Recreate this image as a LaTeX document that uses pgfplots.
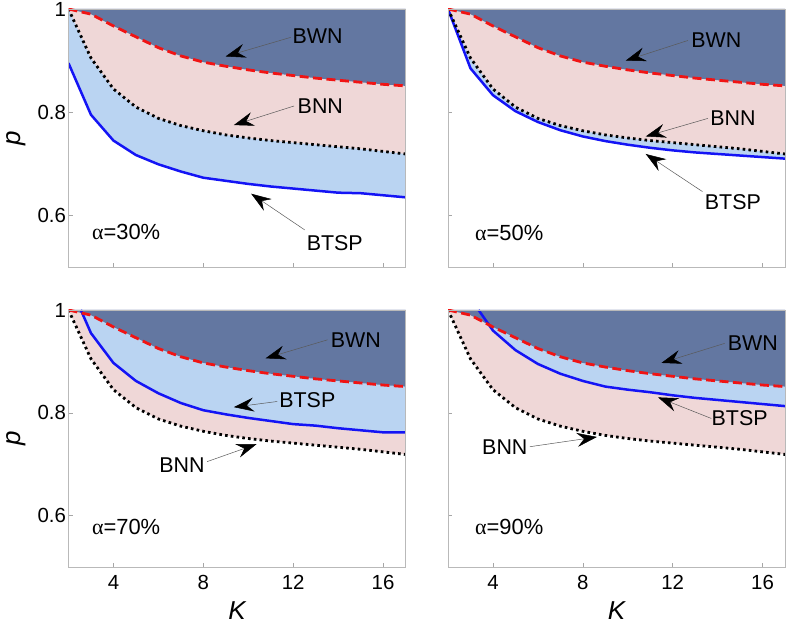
\documentclass[border=0pt]{standalone}
\usepackage{fontspec}
\setmainfont{Liberation Sans}
\newfontfamily\serifgr{Liberation Serif}
\usepackage{pgfplots}
\usepackage{pgfplotstable}
\pgfplotsset{compat=1.18}
\usetikzlibrary{arrows.meta}

\definecolor{darkreg}{RGB}{99,119,161}
\definecolor{pinkreg}{RGB}{239,215,215}
\definecolor{lbreg}{RGB}{186,212,242}
\definecolor{bluel}{RGB}{20,20,245}
\definecolor{redl}{RGB}{240,20,20}

\pgfplotstableread{
K p
2 1
3 0.990
4 0.967
5 0.946
6 0.925
7 0.909
8 0.897
9 0.889
10 0.882
11 0.876
12 0.871
13 0.866
14 0.862
15 0.858
16 0.854
17 0.851
}\bwn

\pgfplotstableread{
K p
2 1
3 0.905
4 0.845
5 0.810
6 0.788
7 0.774
8 0.764
9 0.756
10 0.750
11 0.745
12 0.741
13 0.737
14 0.733
15 0.729
16 0.724
17 0.719
}\bnn

\pgfplotstableread{
K p
2 0.895
3 0.795
4 0.745
5 0.717
6 0.699
7 0.685
8 0.673
9 0.667
10 0.661
11 0.656
12 0.652
13 0.648
14 0.644
15 0.643
16 0.639
17 0.635
}\btspA

\pgfplotstableread{
K p
2 1
3 0.885
4 0.833
5 0.802
6 0.781
7 0.765
8 0.753
9 0.744
10 0.737
11 0.731
12 0.726
13 0.722
14 0.719
15 0.716
16 0.713
17 0.710
}\btspB

\pgfplotstableread{
K p
2.55 1
3 0.955
4 0.897
5 0.862
6 0.838
7 0.819
8 0.805
9 0.797
10 0.790
11 0.784
12 0.778
13 0.775
14 0.770
15 0.766
16 0.762
17 0.762
}\btspC

\pgfplotstableread{
K p
3.36 1
4 0.960
5 0.922
6 0.895
7 0.876
8 0.862
9 0.851
10 0.845
11 0.840
12 0.834
13 0.829
14 0.825
15 0.821
16 0.817
17 0.813
}\btspD

\tikzset{
  ann/.style={font=\fontsize{21.5}{24}\selectfont, inner sep=0pt},
  alab/.style={font=\fontsize{22}{24}\selectfont, inner sep=0pt, anchor=west},
  arr/.style={black!65, line width=0.5bp, -{Stealth[length=20bp,width=14bp,inset=7bp,color=black]}},
  bwnline/.style={redl, line width=2.8bp, dash pattern=on 9bp off 4.5bp},
  bnnline/.style={black, line width=2.8bp, dash pattern=on 2.6bp off 3.2bp},
  btspline/.style={bluel, line width=2.5bp},
}

\pgfplotsset{
  panel/.style={
    scale only axis, width=337bp, height=258bp,
    xmin=2, xmax=17, ymin=0.5, ymax=1,
    xtick={4,8,12,16}, ytick={0.6,0.8,1},
    xtick pos=left, ytick pos=left,
    tick align=inside, major tick length=4bp,
    tick style={gray!70, line width=0.5bp},
    axis line style={gray!55, line width=0.9bp},
    axis on top,
    tick label style={font=\fontsize{20.5}{23}\selectfont},
    yticklabel style={xshift=1bp},
    xticklabel style={yshift=-5bp},
    /pgf/number format/assume math mode=true,
    xlabel style={at={(axis description cs:0.5,-0.206)}, anchor=base, inner sep=0pt, text depth=0pt, font=\fontsize{26}{30}\selectfont\itshape},
    ylabel style={at={(axis description cs:-0.156,0.5)}, anchor=center, inner sep=0pt, font=\fontsize{26}{30}\selectfont\itshape},
  },
}

\begin{document}
\begin{tikzpicture}[x=1bp,y=1bp]

% ---------- Panel 1: alpha = 30% ----------
\begin{axis}[panel, at={(68.5bp,358bp)}, anchor=south west, xticklabels={}, ylabel={p}]
\addplot[fill=lbreg, draw=none] table {\btspA} -- (axis cs:17,1) -- (axis cs:2,1) -- cycle;
\addplot[fill=pinkreg, draw=none] table {\bnn} -- (axis cs:17,1) -- (axis cs:2,1) -- cycle;
\addplot[fill=darkreg, draw=none] table {\bwn} -- (axis cs:17,1) -- (axis cs:2,1) -- cycle;
\addplot[btspline] table {\btspA};
\addplot[bnnline] table {\bnn};
\addplot[bwnline] table {\bwn};
\node[ann] at (axis cs:13.09,0.948) {BWN};
\draw[arr] (axis cs:11.89,0.945) -- (axis cs:8.99,0.908);
\node[ann] at (axis cs:13.21,0.812) {BNN};
\draw[arr] (axis cs:12.04,0.812) -- (axis cs:9.36,0.775);
\node[ann] at (axis cs:13.85,0.546) {BTSP};
\draw[arr] (axis cs:12.51,0.572) -- (axis cs:10.13,0.642);
\node[alab] at (axis cs:3.04,0.568) {{\serifgr α}=30\%};
\end{axis}

% ---------- Panel 2: alpha = 50% ----------
\begin{axis}[panel, at={(448bp,358bp)}, anchor=south west, xticklabels={}, yticklabels={}]
\addplot[fill=lbreg, draw=none] table {\btspB} -- (axis cs:17,1) -- (axis cs:2,1) -- cycle;
\addplot[fill=pinkreg, draw=none] table {\bnn} -- (axis cs:17,1) -- (axis cs:2,1) -- cycle;
\addplot[fill=darkreg, draw=none] table {\bwn} -- (axis cs:17,1) -- (axis cs:2,1) -- cycle;
\addplot[btspline] table {\btspB};
\addplot[bnnline] table {\bnn};
\addplot[bwnline] table {\bwn};
\node[ann] at (axis cs:13.94,0.940) {BWN};
\draw[arr] (axis cs:12.68,0.939) -- (axis cs:9.91,0.900);
\node[ann] at (axis cs:14.68,0.788) {BNN};
\draw[arr] (axis cs:13.57,0.788) -- (axis cs:10.8,0.753);
\node[ann] at (axis cs:14.68,0.625) {BTSP};
\draw[arr] (axis cs:13.33,0.646) -- (axis cs:10.8,0.719);
\node[alab] at (axis cs:3.2,0.566) {{\serifgr α}=50\%};
\end{axis}

% ---------- Panel 3: alpha = 70% ----------
\begin{axis}[panel, height=257bp, at={(68.5bp,58bp)}, anchor=south west, xlabel={K}, ylabel={p}]
\addplot[fill=pinkreg, draw=none] table {\bnn} -- (axis cs:17,1) -- (axis cs:2,1) -- cycle;
\addplot[fill=lbreg, draw=none] table {\btspC} -- (axis cs:17,1) -- (axis cs:2,1) -- cycle;
\addplot[fill=darkreg, draw=none] table {\bwn} -- (axis cs:17,1) -- (axis cs:2,1) -- cycle;
\addplot[bnnline] table {\bnn};
\addplot[btspline] table {\btspC};
\addplot[bwnline] table {\bwn};
\node[ann] at (axis cs:14.79,0.942) {BWN};
\draw[arr] (axis cs:13.53,0.942) -- (axis cs:10.77,0.906);
\node[ann] at (axis cs:12.63,0.825) {BTSP};
\draw[arr] (axis cs:11.29,0.822) -- (axis cs:9.36,0.811);
\node[ann] at (axis cs:7.05,0.698) {BNN};
\draw[arr] (axis cs:8.17,0.705) -- (axis cs:10.37,0.739);
\node[alab] at (axis cs:3.04,0.577) {{\serifgr α}=70\%};
\end{axis}

% ---------- Panel 4: alpha = 90% ----------
\begin{axis}[panel, height=257bp, at={(448bp,58bp)}, anchor=south west, xlabel={K}, yticklabels={}]
\addplot[fill=pinkreg, draw=none] table {\bnn} -- (axis cs:17,1) -- (axis cs:2,1) -- cycle;
\addplot[fill=lbreg, draw=none] table {\btspD} -- (axis cs:17,1) -- (axis cs:2,1) -- cycle;
\addplot[fill=darkreg, draw=none] table {\bwn} -- (axis cs:17,1) -- (axis cs:2,1) -- cycle;
\addplot[bnnline] table {\bnn};
\addplot[btspline] table {\btspD};
\addplot[bwnline] table {\bwn};
\node[ann] at (axis cs:15.57,0.935) {BWN};
\draw[arr] (axis cs:14.31,0.935) -- (axis cs:11.5,0.897);
\node[ann] at (axis cs:14.98,0.789) {BTSP};
\draw[arr] (axis cs:13.72,0.789) -- (axis cs:11.35,0.830);
\node[ann] at (axis cs:4.53,0.734) {BNN};
\draw[arr] (axis cs:5.64,0.734) -- (axis cs:8.63,0.753);
\node[alab] at (axis cs:3.2,0.578) {{\serifgr α}=90\%};
\end{axis}

\pgfresetboundingbox
\path[use as bounding box] (0,0) rectangle (787,625);
\end{tikzpicture}
\end{document}
